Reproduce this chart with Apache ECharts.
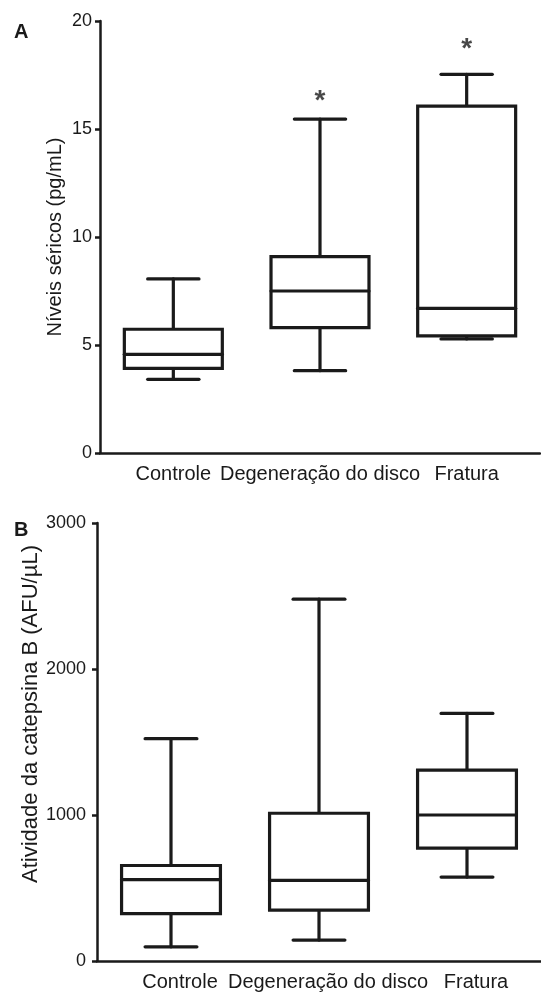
<!DOCTYPE html>
<html>
<head>
<meta charset="utf-8">
<script src="https://cdn.jsdelivr.net/npm/echarts@6/dist/echarts.min.js"></script>
<style>
html, body { margin: 0; padding: 0; background: #fff; }
#chart { width: 541px; height: 992px; }
</style>
</head>
<body>
<div id="chart"></div>
<script>
// grupos
var categories = ['Controle', 'Degeneração do disco', 'Fratura'];

// A - níveis séricos (pg/mL)
var serMin = [3.41, 3.81, 5.28];
var serQ1  = [3.92, 5.80, 5.42];
var serMed = [4.57, 7.50, 6.70];
var serQ3  = [5.73, 9.09, 16.06];
var serMax = [8.06, 15.46, 17.53];
// asteriscos (significância)
var starCats = ['Degeneração do disco', 'Fratura'];
var starVals = [16.6, 19.0];

// B - atividade da catepsina B (AFU/uL)
var catMin = [97, 143, 575];
var catQ1  = [325, 348, 773];
var catMed = [557, 552, 1000];
var catQ3  = [654, 1012, 1307];
var catMax = [1523, 2478, 1696];

var font = 'Liberation Sans, Arial, sans-serif';
var ink = '#1a1a1a';

function boxData(mn, q1, md, q3, mx) {
    var out = [];
    for (var i = 0; i < categories.length; i++) {
        out.push([i, mn[i], q1[i], md[i], q3[i], mx[i]]);
    }
    return out;
}

// caixa com bigodes: tampas com metade da largura da caixa
function renderBox(params, api) {
    var x = api.value(0);
    var lo = api.coord([x, api.value(1)]);
    var q1 = api.coord([x, api.value(2)]);
    var md = api.coord([x, api.value(3)]);
    var q3 = api.coord([x, api.value(4)]);
    var hi = api.coord([x, api.value(5)]);
    var band = api.size([1, 0])[0];
    var hb = band * 0.334;
    var hc = band * 0.175;
    var cx = lo[0];
    var st = { stroke: ink, lineWidth: 3.2, fill: null, lineCap: 'round' };
    return {
        type: 'group',
        children: [
            { type: 'line', shape: { x1: cx, y1: q3[1], x2: cx, y2: hi[1] }, style: st },
            { type: 'line', shape: { x1: cx, y1: q1[1], x2: cx, y2: lo[1] }, style: st },
            { type: 'line', shape: { x1: cx - hc, y1: hi[1], x2: cx + hc, y2: hi[1] }, style: st },
            { type: 'line', shape: { x1: cx - hc, y1: lo[1], x2: cx + hc, y2: lo[1] }, style: st },
            { type: 'rect', shape: { x: cx - hb, y: q3[1], width: 2 * hb, height: q1[1] - q3[1] },
              style: { stroke: ink, lineWidth: 3.2, fill: '#fff' } },
            { type: 'line', shape: { x1: cx - hb, y1: md[1], x2: cx + hb, y2: md[1] }, style: st }
        ]
    };
}

function xAxisCfg(gi, pad) {
    return {
        type: 'category',
        gridIndex: gi,
        data: categories,
        boundaryGap: true,
        axisLine: { lineStyle: { color: ink, width: 2.5 } },
        axisTick: { alignWithLabel: true, length: 7, lineStyle: { color: ink, width: 2.5 } },
        axisLabel: { color: ink, fontSize: 20, fontFamily: font, margin: 11, interval: 0, padding: pad },
        splitLine: { show: false }
    };
}

function yAxisCfg(gi, max, step, name, gap, pad, nsize, lm) {
    return {
        type: 'value',
        gridIndex: gi,
        min: 0,
        max: max,
        interval: step,
        name: name,
        nameLocation: 'middle',
        nameGap: gap,
        nameMoveOverlap: false,
        nameTextStyle: { color: ink, fontSize: nsize, fontFamily: font, padding: pad },
        axisLine: { show: true, lineStyle: { color: ink, width: 2.5 } },
        axisTick: { show: true, length: 5, lineStyle: { color: ink, width: 2.5 } },
        axisLabel: {
            color: ink, fontSize: 18, fontFamily: font, margin: lm,
            formatter: function (v) { return String(v); }
        },
        splitLine: { show: false }
    };
}

var starData = [];
for (var i = 0; i < starCats.length; i++) {
    starData.push([starCats[i], starVals[i]]);
}

var myChart = echarts.init(document.getElementById('chart'), null, { renderer: 'canvas' });
var option = {
    animation: false,
    backgroundColor: '#fff',
    title: [
        { text: 'A', left: 14, top: 22, padding: 0, textStyle: { fontSize: 20, fontWeight: 'bold', color: ink, fontFamily: font } },
        { text: 'B', left: 14, top: 520, padding: 0, textStyle: { fontSize: 20, fontWeight: 'bold', color: ink, fontFamily: font } }
    ],
    grid: [
        { left: 100, top: 21, width: 440, height: 432 },
        { left: 97, top: 523, width: 445, height: 440 }
    ],
    xAxis: [xAxisCfg(0, [0, 0, 0, 0]), xAxisCfg(1, [0, 0, 0, 18])],
    yAxis: [
        yAxisCfg(0, 20, 5, 'Níveis séricos (pg/mL)', 35, [0, 0, 0, 0], 20, 8),
        yAxisCfg(1, 3000, 1000, 'Atividade da catepsina B (AFU/µL)', 55, [0, 0, 0, 56], 22, 11)
    ],
    series: [
        {
            type: 'custom',
            xAxisIndex: 0,
            yAxisIndex: 0,
            renderItem: renderBox,
            encode: { x: 0, y: [1, 2, 3, 4, 5] },
            data: boxData(serMin, serQ1, serMed, serQ3, serMax),
            z: 3
        },
        {
            type: 'scatter',
            xAxisIndex: 0,
            yAxisIndex: 0,
            symbolSize: 2,
            itemStyle: { color: 'rgba(0,0,0,0)' },
            label: {
                show: true,
                position: 'inside',
                formatter: '*',
                color: ink,
                fontSize: 28,
                fontWeight: 'bold',
                fontFamily: font,
                offset: [0, 7]
            },
            data: starData,
            z: 5
        },
        {
            type: 'custom',
            xAxisIndex: 1,
            yAxisIndex: 1,
            renderItem: renderBox,
            encode: { x: 0, y: [1, 2, 3, 4, 5] },
            data: boxData(catMin, catQ1, catMed, catQ3, catMax),
            z: 3
        }
    ]
};
myChart.setOption(option);
</script>
</body>
</html>
